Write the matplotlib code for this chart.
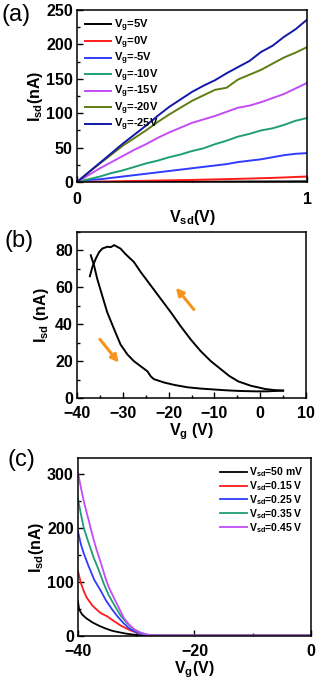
import numpy as np
import matplotlib
matplotlib.use("Agg")
import matplotlib.pyplot as plt
from matplotlib.ticker import MultipleLocator

plt.rcParams['font.family'] = ['Liberation Sans', 'DejaVu Sans']
plt.rcParams['font.weight'] = 'bold'
plt.rcParams['mathtext.default'] = 'regular'

# ---- panel (a): output curves Isd vs Vsd ----
vsd = [0, 0.05, 0.1, 0.15, 0.2, 0.25, 0.3, 0.35, 0.4, 0.45, 0.5,
       0.55, 0.6, 0.65, 0.7, 0.75, 0.8, 0.85, 0.9, 0.95, 1.0]
a_labels = ['V$_g$=5V', 'V$_g$=0V', 'V$_g$=-5V', 'V$_g$=-10V',
            'V$_g$=-15V', 'V$_g$=-20V', 'V$_g$=-25V']
a_colors = ['black', '#ff1a1a', '#2f3cff', '#1f9e74', '#c44cf5', '#5f7d12', '#1218a8']
id_5 = [0, 0.1, 0.1, 0.2, 0.2, 0.3, 0.3, 0.3, 0.4, 0.4, 0.4,
        0.5, 0.5, 0.6, 0.6, 0.7, 0.7, 0.8, 0.8, 0.9, 1.0]
id_0 = [0, 0.3, 0.6, 0.9, 1.2, 1.5, 1.8, 2.1, 2.4, 2.7, 3.0,
        3.4, 3.8, 4.2, 4.6, 5.0, 5.5, 6.0, 6.6, 7.3, 8]
id_m5 = [0, 3, 4, 6, 8, 10, 12, 14, 16, 18, 20,
         22, 24, 26, 29, 31, 33, 36, 39, 41, 42]
id_m10 = [0, 4, 8, 13, 17, 22, 27, 31, 36, 40, 45,
          49, 55, 60, 66, 70, 75, 78, 83, 89, 93]
id_m15 = [0, 10, 20, 29, 38, 47, 55, 64, 72, 79, 86,
          91, 96, 102, 108, 111, 116, 122, 128, 136, 144]
id_m20 = [0, 14, 27, 40, 53, 64, 75, 87, 98, 108, 118,
          126, 134, 137, 149, 156, 163, 172, 181, 188, 196]
id_m25 = [0, 14, 28, 42, 56, 69, 82, 96, 109, 120, 131,
          140, 148, 158, 167, 176, 189, 198, 211, 222, 236]
a_curves = [id_5, id_0, id_m5, id_m10, id_m15, id_m20, id_m25]

# ---- panel (b): transfer hysteresis ----
# lower branch (arrow down-right)
vg_fwd = [-37, -36.3, -35.6, -34.5, -33.4, -31.9, -30.5, -29, -27.6, -26.1,
          -24.6, -23.9, -23.2, -21, -18.8, -15.9, -13, -10.1, -7, -4.4, -1, 1.4, 5]
id_fwd = [77.4, 72, 64.7, 55.5, 46.4, 37.3, 29, 23.6, 20, 17.2,
          14.4, 11.7, 10.2, 8.4, 7.1, 5.8, 5.1, 4.6, 4.1, 3.8, 3.6, 3.6, 4.0]
# upper branch (arrow up-left)
vg_back = [5, 3, 1, 0, -2, -4.8, -6.8, -8.8, -10.8, -13, -15.2, -17.4, -19.5,
           -21.7, -23.9, -26.1, -27.6, -29.4, -30.5, -31.9, -32.6, -33.4,
           -34.5, -35.2, -35.9, -36.65, -37.2]
id_back = [4.0, 4.3, 4.9, 5.5, 6.6, 9, 12, 16, 20, 25.4, 31.8, 39, 46.4,
           53.7, 61, 68.3, 73.8, 78, 81, 82.9, 81.8, 82,
           81, 79, 75.6, 71, 66]
arrow_up = [(-14.1, 46.8), (-18.8, 61.0)]
arrow_down = [(-35.4, 33.0), (-30.5, 18.0)]

# ---- panel (c): transfer curves for several Vsd ----
c_labels = ['V$_{sd}$=50 mV', 'V$_{sd}$=0.15 V', 'V$_{sd}$=0.25 V',
            'V$_{sd}$=0.35 V', 'V$_{sd}$=0.45 V']
c_colors = ['black', '#ff1a1a', '#2f3cff', '#1f9e74', '#c44cf5']
vg_50 = [-40, -39.8, -39.3, -38.6, -37.5, -36.4, -35.3, -34.1, -32.8, -31.7,
         -30.5, -29.3, -28, -26, -20, -10, 0]
id_50 = [64, 49, 40, 33, 25, 19, 14, 9.5, 6.5, 4.2,
         2.5, 1.2, 0.6, 0.6, 0.6, 0.6, 0.6]
vg_15 = [-40, -39.5, -39, -38.5, -37.5, -36.6, -36.1, -35.5, -35, -34.3,
         -33.6, -32.7, -31.8, -30.8, -30, -29, -28, -27, -20, -10, 0]
id_15 = [120, 98, 83, 71, 56, 47, 42.5, 39, 36.5, 31,
         26, 19.5, 14.5, 9.5, 6.5, 3.5, 1.5, 0.7, 0.6, 0.6, 0.6]
vg_25 = [-40, -39.5, -39, -38.2, -37.2, -36.1, -35.2, -34.2, -33.2, -32.2,
         -31.2, -30.2, -29, -28, -27, -20, -10, 0]
id_25 = [194, 170, 153, 130, 104, 84, 66, 50, 36, 24,
         14, 8, 3.5, 1.5, 0.8, 0.6, 0.6, 0.6]
vg_35 = [-40, -39.5, -39, -38.4, -37.3, -36.5, -35.5, -34.7, -33.8, -32.7,
         -31.5, -30.5, -29.3, -28.1, -27, -20, -10, 0]
id_35 = [254, 226, 200, 180, 145, 124, 95, 75, 58, 38,
         23, 13, 6, 2.5, 0.8, 0.6, 0.6, 0.6]
vg_45 = [-40, -39.5, -38.9, -38.1, -37.6, -36.9, -36, -35.3, -34.7, -33.8,
         -32.7, -32.1, -31.3, -30.2, -29, -27.9, -27, -20, -10, 0]
id_45 = [303, 275, 245, 212, 190, 163, 133, 108, 90, 70,
         46, 33, 22, 11, 5, 2, 0.8, 0.6, 0.6, 0.6]
c_x = [vg_50, vg_15, vg_25, vg_35, vg_45]
c_y = [id_50, id_15, id_25, id_35, id_45]


def style_axes(ax, xpad):
    for s in ax.spines.values():
        s.set_linewidth(1.1)
    ax.tick_params(which='both', direction='in', labelsize=11.5, width=1.0)
    ax.tick_params(which='major', length=4)
    ax.tick_params(which='minor', length=2)
    ax.tick_params(axis='x', pad=xpad)
    ax.tick_params(axis='y', pad=3)
    for lab in ax.get_xticklabels() + ax.get_yticklabels():
        lab.set_fontweight('bold')


fig = plt.figure(figsize=(3.17, 6.85), dpi=100)

# (a)
ax1 = fig.add_axes([0.243, 0.7343, 0.7256, 0.2511])
for y, c, lab in zip(a_curves, a_colors, a_labels):
    ax1.plot(vsd, y, color=c, lw=1.4, label=lab)
ax1.set_xlim(0, 1)
ax1.set_ylim(0, 250)
ax1.set_xticks([0, 1])
ax1.xaxis.set_minor_locator(MultipleLocator(0.5))
ax1.yaxis.set_major_locator(MultipleLocator(50))
ax1.yaxis.set_minor_locator(MultipleLocator(25))
ax1.set_xlabel('V$_{sd}$(V)', fontsize=11.5, fontweight='bold', labelpad=1)
ax1.set_ylabel('I$_{sd}$(nA)', fontsize=11.5, fontweight='bold', labelpad=1)
ax1.legend(loc='upper left', frameon=False, prop={'size': 8, 'weight': 'bold'},
           handlelength=2.4, handletextpad=0.25, labelspacing=0.01,
           borderaxespad=0.3)
style_axes(ax1, 7)
fig.text(0.005, 0.978, '(a)', fontsize=17, fontweight='normal', va='center')

# (b)
ax2 = fig.add_axes([0.243, 0.4190, 0.7224, 0.2423])
ax2.plot(vg_back, id_back, color='black', lw=1.4)
ax2.plot(vg_fwd, id_fwd, color='black', lw=1.4)
for (x0, y0), (x1, y1) in [arrow_up, arrow_down]:
    ax2.annotate('', xy=(x1, y1), xytext=(x0, y0),
                 arrowprops=dict(arrowstyle='-|>', color='#f7941d', lw=2.2,
                                 mutation_scale=11))
ax2.set_xlim(-40, 10)
ax2.set_ylim(0, 90)
ax2.xaxis.set_major_locator(MultipleLocator(10))
ax2.xaxis.set_minor_locator(MultipleLocator(5))
ax2.yaxis.set_major_locator(MultipleLocator(20))
ax2.yaxis.set_minor_locator(MultipleLocator(10))
ax2.set_xlabel('V$_g$ (V)', fontsize=11.5, fontweight='bold', labelpad=0)
ax2.set_ylabel('I$_{sd}$ (nA)', fontsize=11.5, fontweight='bold', labelpad=3)
style_axes(ax2, 6)
fig.text(0.015, 0.648, '(b)', fontsize=17, fontweight='normal', va='center')

# (c)
ax3 = fig.add_axes([0.246, 0.0716, 0.735, 0.2598])
for x, y, c, lab in zip(c_x, c_y, c_colors, c_labels):
    ax3.plot(x, y, color=c, lw=1.3, label=lab)
ax3.set_xlim(-40, 0)
ax3.set_ylim(0, 330)
ax3.xaxis.set_major_locator(MultipleLocator(20))
ax3.xaxis.set_minor_locator(MultipleLocator(10))
ax3.yaxis.set_major_locator(MultipleLocator(100))
ax3.yaxis.set_minor_locator(MultipleLocator(50))
ax3.set_xlabel('V$_g$(V)', fontsize=11.5, fontweight='bold', labelpad=0)
ax3.set_ylabel('I$_{sd}$(nA)', fontsize=11.5, fontweight='bold', labelpad=1)
ax3.legend(loc='upper right', frameon=False, prop={'size': 7.5, 'weight': 'bold'},
           handlelength=2.6, handletextpad=0.25, labelspacing=0.01,
           borderaxespad=0.3)
style_axes(ax3, 6)
fig.text(0.025, 0.328, '(c)', fontsize=17, fontweight='normal', va='center')

fig.savefig('out.png', dpi=100)
